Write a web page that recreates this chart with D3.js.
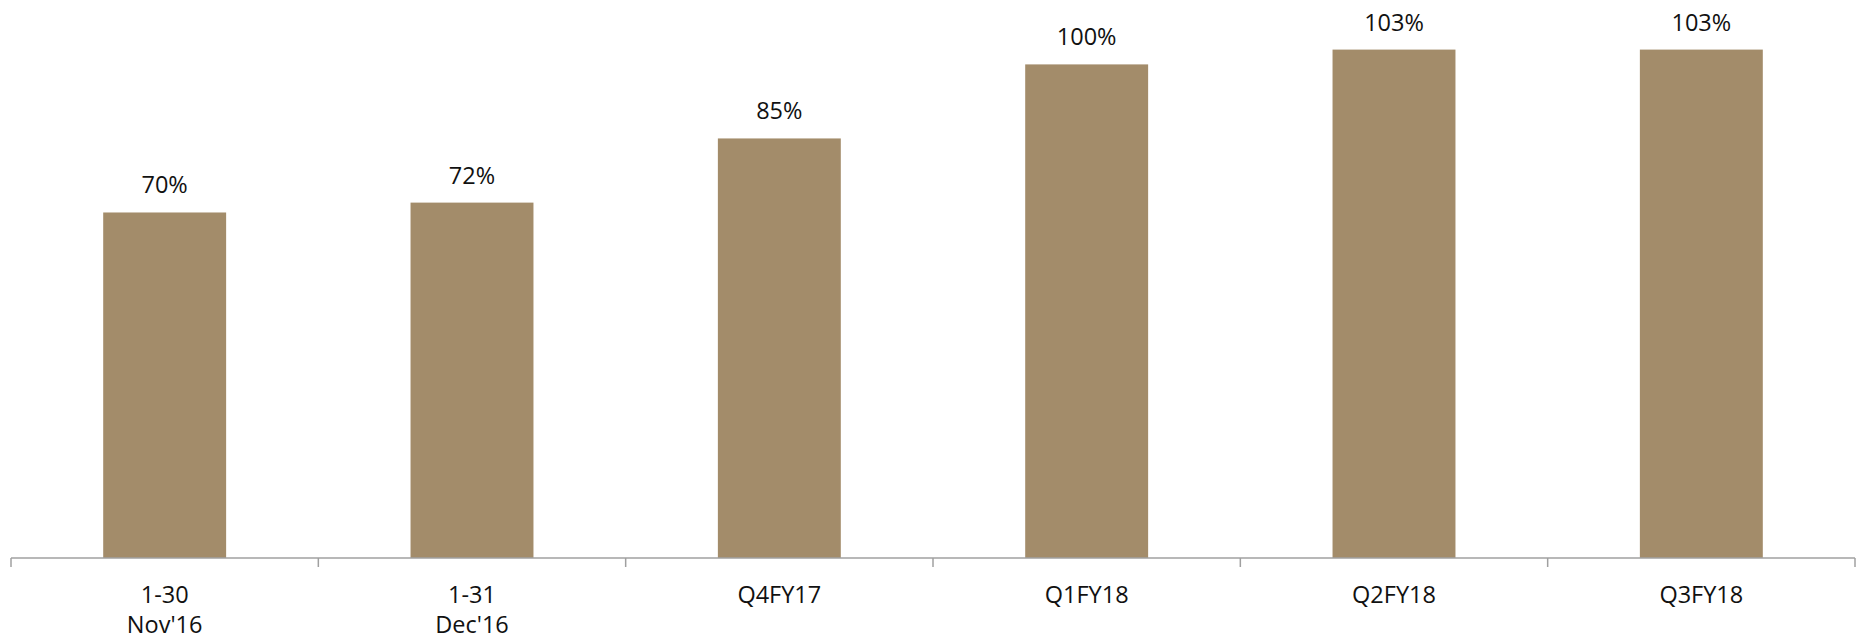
<!DOCTYPE html>
<html>
<head>
<meta charset="utf-8">
<script src="https://cdn.jsdelivr.net/npm/d3@7"></script>
<style>
  html, body { margin: 0; padding: 0; background: #ffffff; }
  svg { display: block; }
  text { font-family: "Open Sans", "Liberation Sans", sans-serif; fill: #111111; }
</style>
</head>
<body>
<svg id="chart" width="1860" height="640"></svg>
<script>
// Category labels (each array entry is one line of the axis label)
const categories = ["1-30 Nov'16", "1-31 Dec'16", "Q4FY17", "Q1FY18", "Q2FY18", "Q3FY18"];
const categoryLines = [["1-30", "Nov'16"], ["1-31", "Dec'16"], ["Q4FY17"], ["Q1FY18"], ["Q2FY18"], ["Q3FY18"]];
// Values in percent
const values = [70, 72, 85, 100, 103, 103];

const width = 1860, height = 640;
const margin = { left: 11, right: 5 };
const baseY = 558;
const pxPerUnit = 4.936;
const yMax = 110;

const svg = d3.select("#chart");

const x = d3.scaleBand()
  .domain(categories)
  .range([margin.left, width - margin.right])
  .paddingInner(0.6)
  .paddingOuter(0.3);

const y = d3.scaleLinear()
  .domain([0, yMax])
  .range([baseY, baseY - pxPerUnit * yMax]);

// Bars
svg.append("g")
  .selectAll("rect")
  .data(values)
  .join("rect")
  .attr("x", (d, i) => x(categories[i]))
  .attr("y", d => y(d))
  .attr("width", x.bandwidth())
  .attr("height", d => y(0) - y(d))
  .attr("fill", "#a38c6a");

// Value labels above bars
svg.append("g")
  .selectAll("text")
  .data(values)
  .join("text")
  .attr("x", (d, i) => x(categories[i]) + x.bandwidth() / 2)
  .attr("y", d => y(d) - 19)
  .attr("text-anchor", "middle")
  .style("font-size", "23.5px")
  .text(d => d + "%");

// Category axis: baseline with tick marks at slot boundaries
const step = x.step();
const axisG = svg.append("g");
const [r0, r1] = x.range();
axisG.append("line")
  .attr("x1", r0).attr("x2", r1)
  .attr("y1", baseY).attr("y2", baseY)
  .attr("stroke", "#a0a0a0")
  .attr("stroke-width", 1.5);

const boundaries = d3.range(categories.length + 1).map(i => r0 + i * step);
axisG.selectAll("line.tick")
  .data(boundaries)
  .join("line")
  .attr("class", "tick")
  .attr("x1", d => d).attr("x2", d => d)
  .attr("y1", baseY).attr("y2", baseY + 9)
  .attr("stroke", "#a0a0a0")
  .attr("stroke-width", 1.5);

// Category labels
const labelG = axisG.selectAll("text.cat")
  .data(categories)
  .join("text")
  .attr("class", "cat")
  .attr("x", d => x(d) + x.bandwidth() / 2)
  .attr("y", 603)
  .attr("text-anchor", "middle")
  .style("font-size", "23.5px");

labelG.each(function (d, i) {
  const t = d3.select(this);
  categoryLines[i].forEach((line, j) => {
    t.append("tspan")
      .attr("x", x(d) + x.bandwidth() / 2)
      .attr("dy", j === 0 ? 0 : 30)
      .text(line);
  });
});
</script>
</body>
</html>
